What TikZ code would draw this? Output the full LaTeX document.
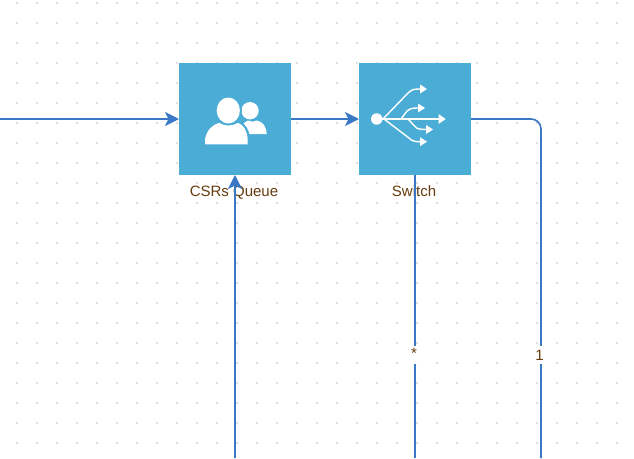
\documentclass[tikz,border=0pt]{standalone}
\usepackage{fontspec}
\setmainfont{Liberation Sans}
\usetikzlibrary{arrows.meta}
\definecolor{boxblue}{HTML}{4BACD6}
\definecolor{flowblue}{HTML}{3A78C6}
\definecolor{labelbrown}{HTML}{663C0E}
\definecolor{griddot}{HTML}{DEDEDE}
\tikzset{
	stepbox/.style = {fill=boxblue, minimum size=112pt, inner sep=0pt, outer sep=0pt},
	caption/.style = {text=labelbrown, font=\fontsize{15}{15}\selectfont, inner sep=0pt},
	flow/.style = {draw=flowblue, line width=1.6pt},
	tagged/.style = {caption, fill=white, minimum height=18pt, inner xsep=1pt},
	icon/.style = {draw=white, line width=1.4pt, line cap=round, line join=round},
	iconhead/.style = {fill=white, draw=none},
}
\begin{document}
\begin{tikzpicture}[
		x = 1pt,
		y = -1pt,
		line join = round,
		> = {Stealth[length=14pt, width=14pt, inset=3.5pt]},
		]
\useasboundingbox (0,0) rectangle (634,458);
\clip (0,0) rectangle (634,458);
% dotted page grid
\foreach \px in {17,37,...,637}
	\foreach \py in {3,23,...,463}
		\fill[griddot] (\px,\py) circle (1.4pt);

\node[stepbox] (csrs)	at (235,119) {};
\node[stepbox] (switch)	at (415,119) {};
\node[caption, anchor=base] (csrstext)	at (234,196.5) {CSRs Queue};
\node[caption, anchor=base] (switchtext)	at (414,196.5) {Switch};

% people icon
\fill[white] (250,110.7) circle (8.7pt);
\fill[white] (241,134) .. controls (240,126) and (243,123) .. (248,120.5)
		.. controls (251,122) and (254,122) .. (257,120.5)
		.. controls (263,122) and (266,126) .. (266.7,134) -- cycle;
\fill[boxblue] (228.3,110.5) ellipse (13.5pt and 15pt);
\fill[boxblue] (203,146) -- (203,138) .. controls (205,128) and (211,123) .. (219,120.5)
		.. controls (225,124) and (232,124) .. (238,120.5)
		.. controls (245,123) and (249,129) .. (250,138) -- (250,146) -- cycle;
\fill[white] (228.3,110.5) ellipse (11.6pt and 13pt);
\fill[white] (205,144.3) -- (205,139) .. controls (207,130) and (212,125) .. (219,122.8)
		.. controls (225,126.5) and (232,126.5) .. (238,122.8)
		.. controls (244,125) and (247,131) .. (247.7,139) -- (247.7,144.3) -- cycle;

% switch icon
\fill[white] (376.7,119) circle (5.7pt);
\draw[icon] (380,119) -- (440,119);
\draw[icon] (383,119) -- (409,92) .. controls (411,90) and (413,89) .. (421,89);
\draw[icon] (401,119) -- (407,111) .. controls (409,109) and (411,108) .. (419,108);
\draw[icon] (408,119) -- (415,126.5) .. controls (417,129) and (420,129.5) .. (427,129.5);
\draw[icon] (384,119) -- (409,138) .. controls (412,141) and (414,141.7) .. (421,141.7);
\fill[iconhead] (445.7,119) -- (438.5,114) -- (438.5,124) -- cycle;
\fill[iconhead] (427,89) -- (420,84.5) -- (420,93.5) -- cycle;
\fill[iconhead] (425,108) -- (418,103.5) -- (418,112.5) -- cycle;
\fill[iconhead] (433,129.5) -- (426,125) -- (426,134) -- cycle;
\fill[iconhead] (427,141.7) -- (420,137.2) -- (420,146.2) -- cycle;

% connectors
\coordinate (infeed)	at (0,119);
\coordinate (csrsfeed)	at (235,458);
\coordinate (starend)	at (415,458);
\coordinate (oneend)	at (541,458);
\draw[flow,->]	(infeed) -- (csrs.west);
\draw[flow,->]	(csrsfeed) -- (csrs.south);
\draw[flow,->]	(csrs.east) -- (switch.west);
\draw[flow]	(switch.south) -- (starend);
\draw[flow, rounded corners=10pt]	(switch.east) -| (oneend);
\node[tagged] (onetag)	at (539.5,355) {1};
\node[tagged] (startag)	at (414,355) {\raisebox{3pt}{*}};
\end{tikzpicture}
\end{document}
